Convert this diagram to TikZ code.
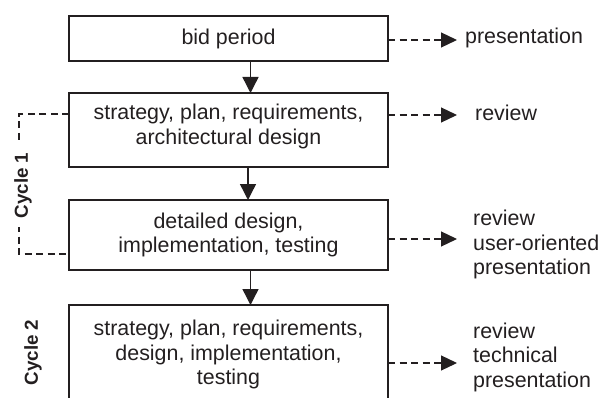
\documentclass[tikz,border=0pt]{standalone}
\usepackage{fontspec}
\setmainfont{Liberation Sans}
\usetikzlibrary{arrows.meta}
\definecolor{ink}{RGB}{35,31,32}
\begin{document}
\begin{tikzpicture}[x=1pt,y=-1pt,
  stagebox/.style={draw=ink, line width=1.5pt, minimum width=319pt, inner sep=0pt, outer sep=0pt},
  stagetext/.style={text=ink, align=center, inner sep=0pt, font=\fontsize{21.4}{24.5}\selectfont},
  sidetext/.style={text=ink, align=left, inner sep=0pt, font=\fontsize{21.4}{24.5}\selectfont},
  cyclelabel/.style={text=ink, rotate=90, font=\fontsize{18.8}{20}\selectfont\bfseries, inner xsep=9pt, inner ysep=2pt},
  flow/.style={draw=ink, line width=1.4pt, -{Triangle[width=16pt,length=16pt]}},
  outflow/.style={draw=ink, line width=1.2pt, dash pattern=on 7pt off 4.5pt, -{Triangle[width=15pt,length=16pt]}},
  bracket/.style={draw=ink, line width=1.9pt, dash pattern=on 7pt off 4.5pt}
]
\useasboundingbox (0,0) rectangle (599,398);
\clip (0,0) rectangle (599,398);

% boxes
\node[stagebox, minimum height=45pt] (b1) at (228.5,38.5) {};
\node[stagebox, minimum height=74pt] (b2) at (228.5,130) {};
\node[stagebox, minimum height=70pt] (b3) at (228.5,235) {};
\node[stagebox, minimum height=96pt] (b4) at (228.5,353) {};

% box texts
\node[stagetext] (t1) at (b1.center) {bid period};
\node[stagetext] (t2) at ([yshift=3.5pt]b2.center) {strategy, plan, requirements,\\architectural design};
\node[stagetext] (t3) at (b3.center) {detailed design,\\implementation, testing};
\node[stagetext] (t4) at ([yshift=-1.5pt]b4.center) {strategy, plan, requirements,\\design, implementation,\\testing};

% flow arrows
\draw[flow] ([xshift=22pt]b1.south) -- ([xshift=22pt]b2.north);
\draw[flow] ([xshift=19.5pt]b2.south) -- ([xshift=19.5pt]b3.north);
\draw[flow] ([xshift=22pt]b3.south) -- ([xshift=22pt]b4.north);

% side outputs
\node[sidetext, anchor=base west] (p1) at (465,43.5) {presentation};
\node[sidetext, anchor=base west] (p2) at (475,120.5) {review};
\node[sidetext, anchor=west] (p3) at (473,244.5) {review\\user-oriented\\presentation};
\node[sidetext, anchor=west] (p4) at (473,357) {review\\technical\\presentation};

\coordinate (e1) at (457,40);
\coordinate (e2) at (457,115);
\coordinate (e3) at (457,239);
\coordinate (e4) at (457,363);
\draw[outflow] (b1.east |- e1) -- (e1);
\draw[outflow] (b2.east |- e2) -- (e2);
\draw[outflow] (b3.east |- e3) -- (e3);
\draw[outflow] (b4.east |- e4) -- (e4);

% cycle 1 bracket
\draw[bracket] ([yshift=16pt]b2.west) -- ++(-50,0) |- ([yshift=-19pt]b3.west);
\node[cyclelabel, fill=white] (c1) at (23,185.5) {Cycle 1};
\node[cyclelabel] (c2) at (33,352.5) {Cycle 2};
\end{tikzpicture}
\end{document}
